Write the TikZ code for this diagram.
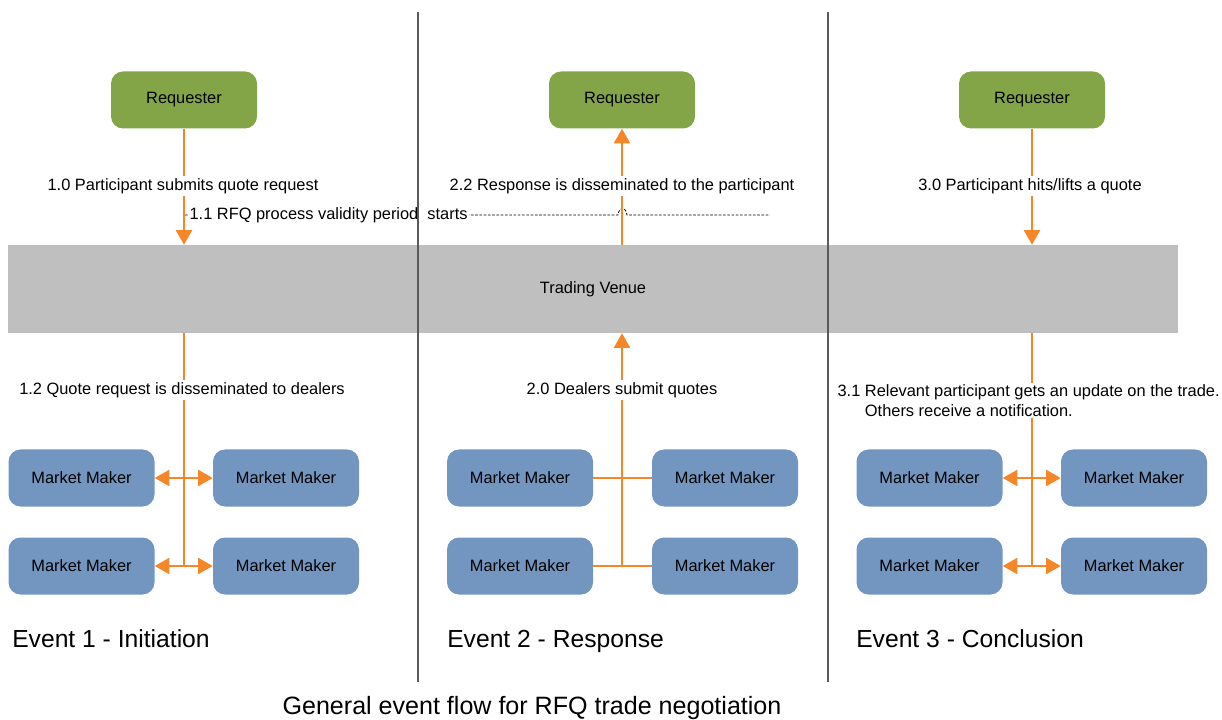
\documentclass[tikz,border=0pt]{standalone}
\usepackage{fontspec}
\setmainfont{Liberation Sans}
\usetikzlibrary{arrows.meta}
\definecolor{reqgreen}{RGB}{132,165,71}
\definecolor{mmblue}{RGB}{115,150,193}
\definecolor{floworange}{RGB}{245,135,40}
\definecolor{venuegray}{RGB}{191,191,191}
\definecolor{divgray}{RGB}{90,90,90}

\begin{document}
\begin{tikzpicture}[x=0.75pt,y=-0.75pt,
    party/.style={fill=reqgreen, rounded corners=9pt, minimum width=109.5pt, minimum height=42.75pt, font=\fontsize{12.3}{14.5}\selectfont},
    dealer/.style={fill=mmblue, rounded corners=9pt, minimum width=109.5pt, minimum height=42.75pt, font=\fontsize{12.3}{14.5}\selectfont},
    flow/.style={draw=floworange, line width=1.9pt},
    tip/.style={-{Triangle[length=11pt,width=12pt]}},
    twotip/.style={{Triangle[length=11pt,width=12pt]}-{Triangle[length=11pt,width=12pt]}},
    lbl/.style={fill=white, inner sep=1.5pt, font=\fontsize{12.3}{14.5}\selectfont},
    event/.style={anchor=base west, inner sep=0pt, font=\fontsize{18.5}{22}\selectfont},
    divider/.style={draw=divgray, line width=0.8pt}]
        \useasboundingbox (0,0) rectangle (1222,720);

        \node[fill=venuegray, minimum width=877.5pt, minimum height=66pt, inner sep=0pt, font=\fontsize{12.3}{14.5}\selectfont] (venue) at (593,289) {Trading Venue};

        \node[party] (req1) at (184,100) {Requester};
        \node[party] (req2) at (622,100) {Requester};
        \node[party] (req3) at (1032,100) {Requester};

        \node[dealer] (mm1a) at (81.5,478) {Market Maker};
        \node[dealer] (mm1b) at (286,478) {Market Maker};
        \node[dealer] (mm1c) at (81.5,566) {Market Maker};
        \node[dealer] (mm1d) at (286,566) {Market Maker};
        \node[dealer] (mm2a) at (520,478) {Market Maker};
        \node[dealer] (mm2b) at (725,478) {Market Maker};
        \node[dealer] (mm2c) at (520,566) {Market Maker};
        \node[dealer] (mm2d) at (725,566) {Market Maker};
        \node[dealer] (mm3a) at (929.5,478) {Market Maker};
        \node[dealer] (mm3b) at (1134,478) {Market Maker};
        \node[dealer] (mm3c) at (929.5,566) {Market Maker};
        \node[dealer] (mm3d) at (1134,566) {Market Maker};

        \coordinate (vstart) at (185,215);
        \coordinate (vend) at (770,215);
        \draw[black, line width=0.6pt, dash pattern=on 2pt off 1.2pt] (vstart) -- (618,215) .. controls (619.5,206) and (625.5,206) .. (627,215) -- (vend);

        \draw[flow, tip] (req1.south) -- (req1.south |- venue.north);
        \draw[flow] (req1 |- venue.south) -- (req1 |- mm1c.east);
        \draw[flow, twotip] (mm1a) -- (mm1b);
        \draw[flow, twotip] (mm1c) -- (mm1d);

        \draw[flow, tip] (req2 |- venue.north) -- (req2.south);
        \draw[flow, tip] (req2 |- mm2c.east) -- (req2 |- venue.south);
        \draw[flow] (mm2a) -- (mm2b);
        \draw[flow] (mm2c) -- (mm2d);

        \draw[flow, tip] (req3.south) -- (req3.south |- venue.north);
        \draw[flow] (req3 |- venue.south) -- (req3 |- mm3c.east);
        \draw[flow, twotip] (mm3a) -- (mm3b);
        \draw[flow, twotip] (mm3c) -- (mm3d);

        \node[lbl] (l10) at (183,186) {1.0 Participant submits quote request};
        \node[lbl, anchor=west, inner sep=1pt] (l11) at (188,215) {1.1 RFQ process validity period\ \ starts};
        \node[lbl] (l12) at (182,390) {1.2 Quote request is disseminated to dealers};
        \node[lbl] (l22) at (622,186) {2.2 Response is disseminated to the participant};
        \node[lbl] (l20) at (622,390) {2.0 Dealers submit quotes};
        \node[lbl] (l30) at (1030,186) {3.0 Participant hits/lifts a quote};
        \node[lbl, anchor=north west, align=left, inner sep=1pt, font=\fontsize{12.3}{15}\selectfont] (l31) at (836,383) {3.1 Relevant participant gets an update on the trade.\\\hphantom{3.1 }Others receive a notification.};

        \node[event] (ev1) at (12,647) {Event 1 - Initiation};
        \node[event] (ev2) at (447,647) {Event 2 - Response};
        \node[event] (ev3) at (856,647) {Event 3 - Conclusion};
        \node[font=\fontsize{18.8}{22}\selectfont, anchor=base, inner sep=0pt] (title) at (532,714) {General event flow for RFQ trade negotiation};

        \draw[divider] (418,12) -- (418,682);
        \draw[divider] (828,12) -- (828,682);
\end{tikzpicture}
\end{document}
